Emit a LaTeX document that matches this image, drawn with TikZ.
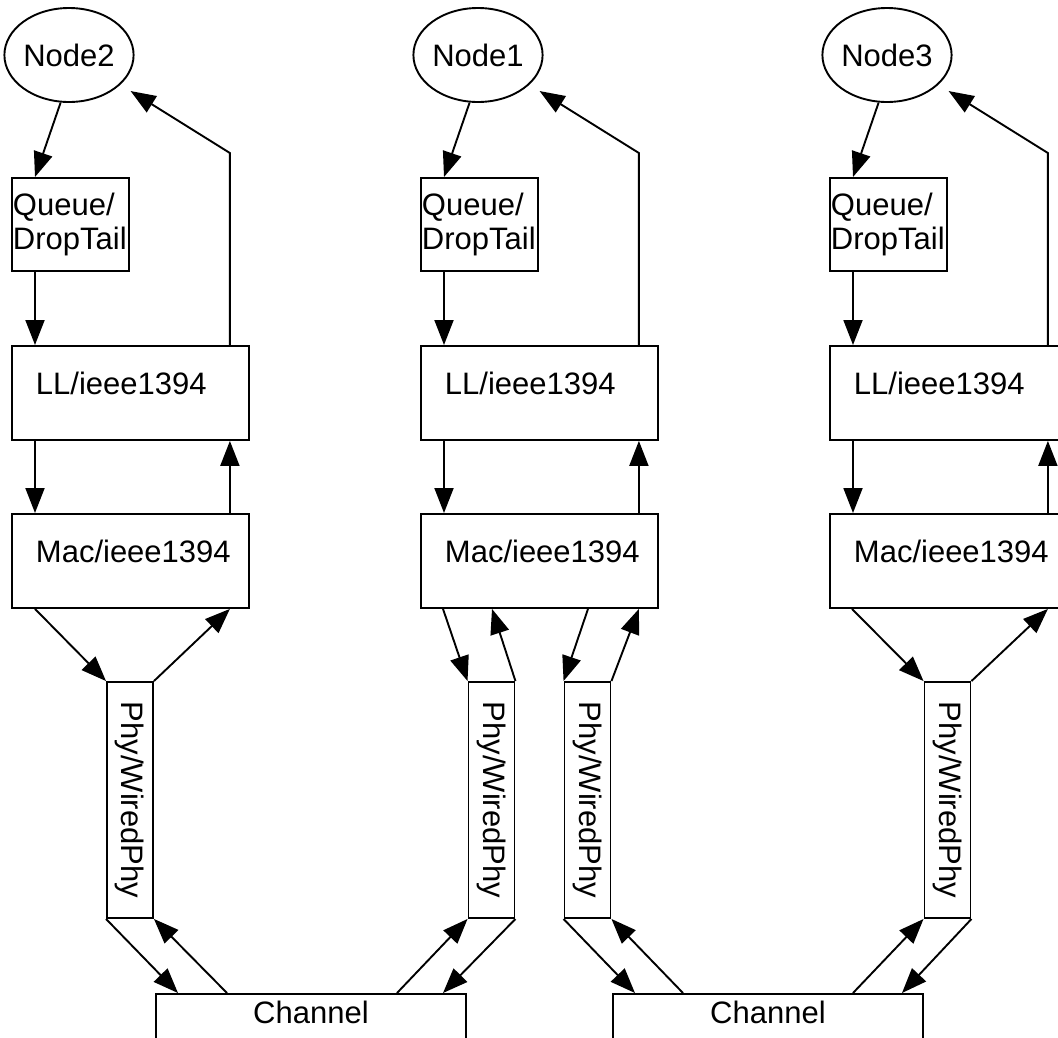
\documentclass[tikz,border=0pt]{standalone}
\usepackage{fontspec}
\setmainfont{Liberation Sans}
\usetikzlibrary{arrows.meta,shapes.geometric}

\begin{document}
\begin{tikzpicture}[x=1pt,y=-1pt,line width=1.9pt,
  font=\fontsize{31}{34}\selectfont,
  arr/.style={-{Triangle[length=25pt,width=19pt]}},
  host/.style={draw,ellipse,minimum width=118,minimum height=94,inner sep=0pt},
  queuebox/.style={draw,anchor=north west,minimum width=117,minimum height=93,
    text width=115,inner xsep=1pt,inner ysep=0pt,align=left},
  stackbox/.style={draw,anchor=north west,minimum width=237,minimum height=94,
    text width=189,inner xsep=24pt,inner ysep=0pt,align=left,
    text height=23pt,text depth=20pt},
  phybox/.style={draw,minimum width=46,minimum height=236,inner sep=0pt},
  chanbox/.style={draw,anchor=north west,minimum width=310,minimum height=80,
    inner sep=0pt,text height=23pt,text depth=43pt}]
\useasboundingbox (0,0) rectangle (1058,1037);
\clip (0,0) rectangle (1058,1037);

% hosts
\node[host] (node2) at (69,55) {Node2};
\node[host] (node1) at (478,55) {Node1};
\node[host] (node3) at (887,55) {Node3};

% protocol stacks
\node[queuebox] (q2) at (11,177) {Queue/\\DropTail};
\node[queuebox] (q1) at (420,177) {Queue/\\DropTail};
\node[queuebox] (q3) at (829,177) {Queue/\\DropTail};
\node[stackbox] (ll2) at (11,345) {LL/ieee1394};
\node[stackbox] (ll1) at (420,345) {LL/ieee1394};
\node[stackbox] (ll3) at (829,345) {LL/ieee1394};
\node[stackbox] (mac2) at (11,513) {Mac/ieee1394};
\node[stackbox] (mac1) at (420,513) {Mac/ieee1394};
\node[stackbox] (mac3) at (829,513) {Mac/ieee1394};

% physical layer
\node[phybox] (phy2) at (130,800) {\rotatebox{-90}{Phy/WiredPhy}};
\node[phybox] (phy1a) at (491.5,800) {\rotatebox{-90}{Phy/WiredPhy}};
\node[phybox] (phy1b) at (587.5,800) {\rotatebox{-90}{Phy/WiredPhy}};
\node[phybox] (phy3) at (947.5,800) {\rotatebox{-90}{Phy/WiredPhy}};

\node[chanbox] (chanL) at (155,993) {Channel};
\node[chanbox] (chanR) at (612,993) {Channel};

% Node2
\draw[arr] (node2.-100) -- ([xshift=24pt]q2.north west);
\draw[arr] ([xshift=24pt]q2.south west) -- ([xshift=24pt]ll2.north west);
\draw[arr] ([xshift=24pt]ll2.south west) -- ([xshift=24pt]mac2.north west);
\draw[arr] ([xshift=-20pt]mac2.north east) -- ([xshift=-20pt]ll2.south east);
\draw[arr,shorten >=12pt] ([xshift=-20pt]ll2.north east) -- ++(0,-192) -- (node2.-30);
\draw[arr] ([xshift=24pt]mac2.south west) -- (phy2.north west);
\draw[arr] (phy2.north east) -- ([xshift=-20pt]mac2.south east);

% Node1
\draw[arr] (node1.-100) -- ([xshift=24pt]q1.north west);
\draw[arr] ([xshift=24pt]q1.south west) -- ([xshift=24pt]ll1.north west);
\draw[arr] ([xshift=24pt]ll1.south west) -- ([xshift=24pt]mac1.north west);
\draw[arr] ([xshift=-20pt]mac1.north east) -- ([xshift=-20pt]ll1.south east);
\draw[arr,shorten >=12pt] ([xshift=-20pt]ll1.north east) -- ++(0,-192) -- (node1.-30);
\draw[arr] ([xshift=23pt]mac1.south west) -- (phy1a.north west);
\draw[arr] (phy1a.north east) -- ([xshift=72pt]mac1.south west);
\draw[arr] ([xshift=168pt]mac1.south west) -- (phy1b.north west);
\draw[arr] (phy1b.north east) -- ([xshift=-20pt]mac1.south east);

% Node3
\draw[arr] (node3.-100) -- ([xshift=24pt]q3.north west);
\draw[arr] ([xshift=24pt]q3.south west) -- ([xshift=24pt]ll3.north west);
\draw[arr] ([xshift=24pt]ll3.south west) -- ([xshift=24pt]mac3.north west);
\draw[arr] ([xshift=-20pt]mac3.north east) -- ([xshift=-20pt]ll3.south east);
\draw[arr,shorten >=12pt] ([xshift=-20pt]ll3.north east) -- ++(0,-192) -- (node3.-30);
\draw[arr] ([xshift=23pt]mac3.south west) -- (phy3.north west);
\draw[arr] (phy3.north east) -- ([xshift=-20pt]mac3.south east);

% channels
\draw[arr] (phy2.south west) -- ([xshift=23pt]chanL.north west);
\draw[arr] ([xshift=72pt]chanL.north west) -- (phy2.south east);
\draw[arr] ([xshift=242pt]chanL.north west) -- (phy1a.south west);
\draw[arr] (phy1a.south east) -- ([xshift=288pt]chanL.north west);
\draw[arr] (phy1b.south west) -- ([xshift=23pt]chanR.north west);
\draw[arr] ([xshift=71pt]chanR.north west) -- (phy1b.south east);
\draw[arr] ([xshift=241pt]chanR.north west) -- (phy3.south west);
\draw[arr] (phy3.south east) -- ([xshift=290pt]chanR.north west);
\end{tikzpicture}
\end{document}
